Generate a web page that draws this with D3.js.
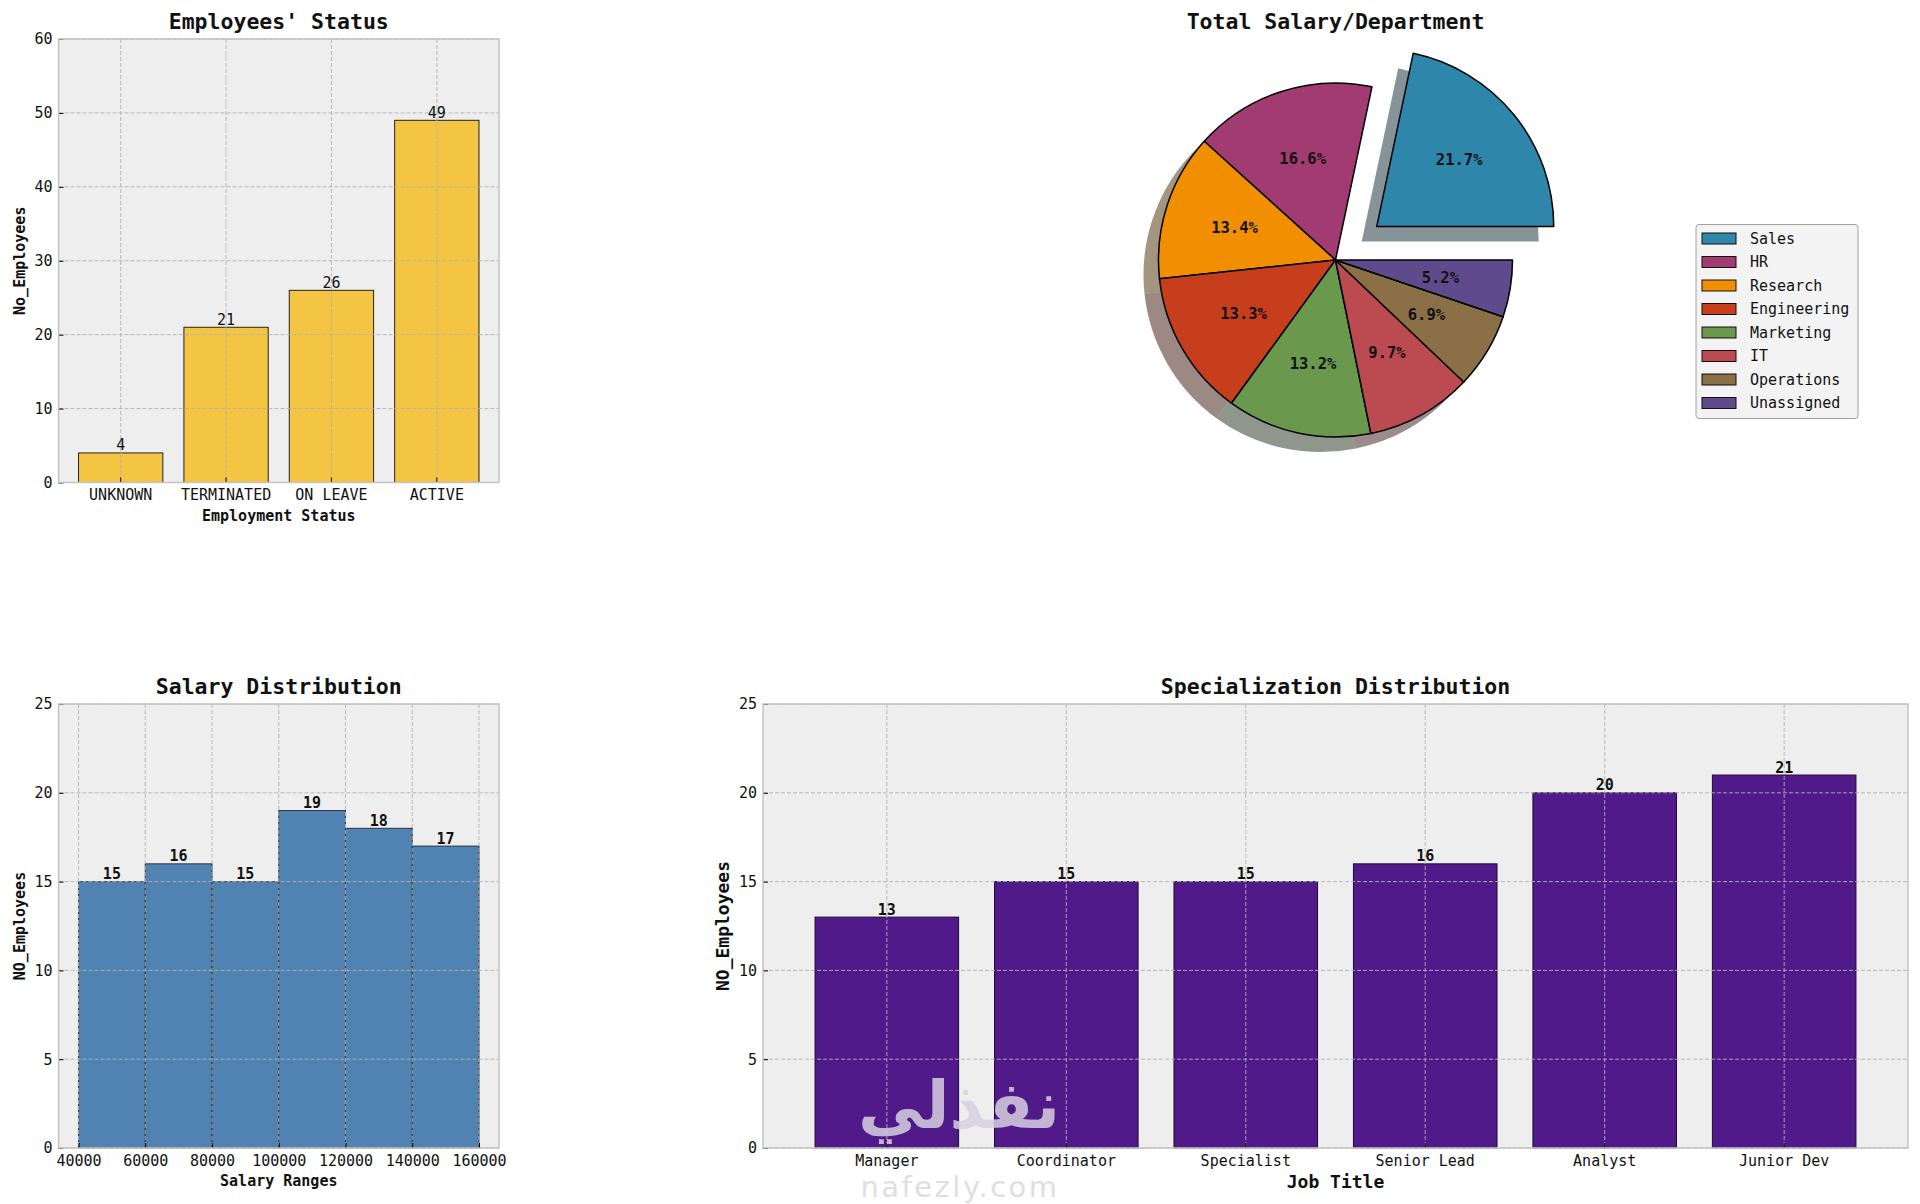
<!DOCTYPE html>
<html>
<head>
<meta charset="utf-8">
<script src="https://cdn.jsdelivr.net/npm/d3@7"></script>
<style>
  body { margin: 0; background: #ffffff; }
  text { font-family: 'DejaVu Sans Mono', monospace; }
</style>
</head>
<body>
<svg id="chart" width="1920" height="1204"></svg>
<script>
//:\\\ data //:\\\

var statusNames = ["UNKNOWN", "TERMINATED", "ON LEAVE", "ACTIVE"];
var statusCounts = [4, 21, 26, 49];
var statusTicks = [0, 10, 20, 30, 40, 50, 60];

var deptNames = ["Sales", "HR", "Research", "Engineering", "Marketing", "IT", "Operations", "Unassigned"];
var deptShares = [21.7, 16.6, 13.4, 13.3, 13.2, 9.7, 6.9, 5.2];

var salaryEdges = [40000, 60000, 80000, 100000, 120000, 140000, 160000];
var salaryCounts = [15, 16, 15, 19, 18, 17];
var salaryTicks = [40000, 60000, 80000, 100000, 120000, 140000, 160000];

var jobTitles = ["Manager", "Coordinator", "Specialist", "Senior Lead", "Analyst", "Junior Dev"];
var jobCounts = [13, 15, 15, 16, 20, 21];

var countTicks = [0, 5, 10, 15, 20, 25];

// palette for the pie
var deptColors = ["#2e86ab", "#a23b72", "#f18f01", "#c73e1d", "#6a994e", "#bc4b51", "#8b6f47", "#5f4b8b"];

//:\\\ layout //:\\\

var svg = d3.select("#chart");
var FONT = "'DejaVu Sans Mono', monospace";

var LEFT = {x0: 58.5, x1: 499};
var RIGHT = {x0: 763, x1: 1908};
var TOP = {y0: 39, y1: 482.5};
var BOTTOM = {y0: 704, y1: 1148};

function box(col, row) {
  return {x0: col.x0, x1: col.x1, y0: row.y0, y1: row.y1};
}

function bandScale(names, b) {
  // matplotlib bar layout: width 0.8 and 5% margins
  var n = names.length;
  return d3.scaleBand()
    .domain(names)
    .range([b.x0, b.x1])
    .paddingInner(0.2)
    .paddingOuter(0.05 * (n - 0.2));
}

function drawBackground(b) {
  svg.append("rect")
    .attr("x", b.x0).attr("y", b.y0)
    .attr("width", b.x1 - b.x0).attr("height", b.y1 - b.y0)
    .attr("fill", "#eeeeee");
}

function drawGrid(b, xs, ys) {
  // dashed grid, above the bars like matplotlib's default
  var g = svg.append("g")
    .attr("stroke", "#b2b2b2")
    .attr("stroke-width", 0.9)
    .attr("stroke-dasharray", "4,2");

  g.selectAll(".gx").data(xs).enter().append("line")
    .attr("x1", function(d) { return d; }).attr("x2", function(d) { return d; })
    .attr("y1", b.y0).attr("y2", b.y1);

  g.selectAll(".gy").data(ys).enter().append("line")
    .attr("x1", b.x0).attr("x2", b.x1)
    .attr("y1", function(d) { return d; }).attr("y2", function(d) { return d; });
}

function drawAxes(b, x, y, yTicks, xFormat) {
  var ax = d3.axisBottom(x).tickSizeInner(-5).tickSizeOuter(0).tickPadding(7);
  if (xFormat) ax.tickValues(xFormat.values).tickFormat(xFormat.format);

  var gx = svg.append("g")
    .attr("transform", "translate(0," + b.y1 + ")")
    .call(ax);
  gx.attr("font-family", FONT).attr("font-size", 15);
  gx.select(".domain").remove();
  gx.selectAll("line").attr("stroke", "#000").attr("stroke-width", 1);
  gx.selectAll("text").attr("fill", "#111");

  var gy = svg.append("g")
    .attr("transform", "translate(" + b.x0 + ",0)")
    .call(d3.axisLeft(y).tickValues(yTicks).tickSizeInner(-5).tickSizeOuter(0).tickPadding(6));
  gy.attr("font-family", FONT).attr("font-size", 15);
  gy.select(".domain").remove();
  gy.selectAll("line").attr("stroke", "#000").attr("stroke-width", 1);
  gy.selectAll("text").attr("fill", "#111");

  // frame
  svg.append("rect")
    .attr("x", b.x0).attr("y", b.y0)
    .attr("width", b.x1 - b.x0).attr("height", b.y1 - b.y0)
    .attr("fill", "none")
    .attr("stroke", "#c4c4c4")
    .attr("stroke-width", 1.5);
}

function drawTitles(b, title, xlab, ylab, labSize, ylabX) {
  var cx = (b.x0 + b.x1) / 2;
  var cy = (b.y0 + b.y1) / 2;

  svg.append("text")
    .attr("x", cx).attr("y", b.y0 - 10)
    .attr("text-anchor", "middle")
    .style("font-size", "21.5px").style("font-weight", "bold")
    .attr("fill", "#111")
    .text(title);

  svg.append("text")
    .attr("x", cx).attr("y", b.y1 + (labSize > 16 ? 40 : 38))
    .attr("text-anchor", "middle")
    .style("font-size", labSize + "px").style("font-weight", "bold")
    .attr("fill", "#111")
    .text(xlab);

  svg.append("text")
    .attr("transform", "translate(" + ylabX + "," + cy + ") rotate(-90)")
    .attr("text-anchor", "middle")
    .style("font-size", labSize + "px").style("font-weight", "bold")
    .attr("fill", "#111")
    .text(ylab);
}

function barLabels(data, xf, yf, bold) {
  svg.append("g").selectAll("text").data(data).enter().append("text")
    .attr("x", function(d, i) { return xf(d, i); })
    .attr("y", function(d) { return yf(d) - 2.5; })
    .attr("text-anchor", "middle")
    .style("font-size", "15px")
    .style("font-weight", bold ? "bold" : "normal")
    .attr("fill", "#111")
    .text(function(d) { return d; });
}

//:\\\ 1. Employees' Status //:\\\

(function() {
  var b = box(LEFT, TOP);
  var x = bandScale(statusNames, b);
  var y = d3.scaleLinear().domain([0, 60]).range([b.y1, b.y0]);

  drawBackground(b);

  svg.append("g").selectAll("rect").data(statusCounts).enter().append("rect")
    .attr("x", function(d, i) { return x(statusNames[i]); })
    .attr("width", x.bandwidth())
    .attr("y", function(d) { return y(d); })
    .attr("height", function(d) { return y(0) - y(d); })
    .attr("fill", "#f4c542")
    .attr("stroke", "#222")
    .attr("stroke-width", 1);

  drawGrid(b, statusNames.map(function(d) { return x(d) + x.bandwidth() / 2; }), statusTicks.map(y));
  drawAxes(b, x, y, statusTicks);
  barLabels(statusCounts, function(d, i) { return x(statusNames[i]) + x.bandwidth() / 2; }, y, false);
  drawTitles(b, "Employees' Status", "Employment Status", "No_Employees", 15, 25);
})();

//:\\\ 2. Total Salary/Department //:\\\

(function() {
  var cx = (RIGHT.x0 + RIGHT.x1) / 2;
  var cy = 260;
  var r = 177;
  var explode = 0.3;      // only Sales is pulled out
  var shadowDx = -15, shadowDy = 15;

  // matplotlib: start at 3 o'clock, counter-clockwise
  var pie = d3.pie().sort(null)
    .startAngle(Math.PI / 2)
    .endAngle(Math.PI / 2 - 2 * Math.PI);
  var arcs = pie(deptShares);
  var arc = d3.arc().innerRadius(0).outerRadius(r);
  var labelArc = d3.arc().innerRadius(0.6 * r).outerRadius(0.6 * r);

  function offset(a, i) {
    var e = i === 0 ? explode * r : 0;
    var mid = (a.startAngle + a.endAngle) / 2;
    return [Math.sin(mid) * e, -Math.cos(mid) * e];
  }

  // shadows first
  svg.append("g").selectAll("path").data(arcs).enter().append("path")
    .attr("d", arc)
    .attr("transform", function(a, i) {
      var o = offset(a, i);
      return "translate(" + (cx + o[0] + shadowDx) + "," + (cy + o[1] + shadowDy) + ")";
    })
    .attr("fill", function(a, i) {
      var c = d3.rgb(deptColors[i]);
      return d3.rgb(c.r * 0.3, c.g * 0.3, c.b * 0.3).toString();
    })
    .attr("opacity", 0.5);

  svg.append("g").selectAll("path").data(arcs).enter().append("path")
    .attr("d", arc)
    .attr("transform", function(a, i) {
      var o = offset(a, i);
      return "translate(" + (cx + o[0]) + "," + (cy + o[1]) + ")";
    })
    .attr("fill", function(a, i) { return deptColors[i]; })
    .attr("stroke", "#000")
    .attr("stroke-width", 1.5)
    .attr("stroke-linejoin", "round");

  svg.append("g").selectAll("text").data(arcs).enter().append("text")
    .attr("transform", function(a, i) {
      var o = offset(a, i);
      var c = labelArc.centroid(a);
      return "translate(" + (cx + o[0] + c[0]) + "," + (cy + o[1] + c[1]) + ")";
    })
    .attr("text-anchor", "middle")
    .attr("dy", "0.35em")
    .style("font-size", "15.5px").style("font-weight", "bold")
    .attr("fill", "#111")
    .text(function(a) { return d3.format(".1f")(a.data) + "%"; });

  svg.append("text")
    .attr("x", cx).attr("y", TOP.y0 - 10)
    .attr("text-anchor", "middle")
    .style("font-size", "21.5px").style("font-weight", "bold")
    .attr("fill", "#111")
    .text("Total Salary/Department");

  // legend
  var lx = 1696, ly = 224.5, lw = 162, lh = 194, step = 23.5;
  var lg = svg.append("g");
  lg.append("rect")
    .attr("x", lx).attr("y", ly).attr("width", lw).attr("height", lh)
    .attr("rx", 3)
    .attr("fill", "#f3f3f3")
    .attr("stroke", "#a0a0a0")
    .attr("stroke-width", 1);

  var rows = lg.selectAll(".row").data(deptNames).enter().append("g")
    .attr("transform", function(d, i) { return "translate(" + lx + "," + (ly + 14 + i * step) + ")"; });
  rows.append("rect")
    .attr("x", 6).attr("y", -5.5).attr("width", 34).attr("height", 11)
    .attr("fill", function(d, i) { return deptColors[i]; })
    .attr("stroke", "#111").attr("stroke-width", 1);
  rows.append("text")
    .attr("x", 54).attr("y", 5)
    .style("font-size", "15px")
    .attr("fill", "#111")
    .text(function(d) { return d; });
})();

//:\\\ 3. Salary Distribution //:\\\

(function() {
  var b = box(LEFT, BOTTOM);
  var span = salaryEdges[salaryEdges.length - 1] - salaryEdges[0];
  var x = d3.scaleLinear()
    .domain([salaryEdges[0] - 0.05 * span, salaryEdges[salaryEdges.length - 1] + 0.05 * span])
    .range([b.x0, b.x1]);
  var y = d3.scaleLinear().domain([0, 25]).range([b.y1, b.y0]);

  drawBackground(b);

  svg.append("g").selectAll("rect").data(salaryCounts).enter().append("rect")
    .attr("x", function(d, i) { return x(salaryEdges[i]); })
    .attr("width", function(d, i) { return x(salaryEdges[i + 1]) - x(salaryEdges[i]); })
    .attr("y", function(d) { return y(d); })
    .attr("height", function(d) { return y(0) - y(d); })
    .attr("fill", "#5083b2")
    .attr("stroke", "#2a3440")
    .attr("stroke-width", 1);

  drawGrid(b, salaryTicks.map(x), countTicks.map(y));
  drawAxes(b, x, y, countTicks, {values: salaryTicks, format: d3.format("d")});
  barLabels(salaryCounts, function(d, i) { return (x(salaryEdges[i]) + x(salaryEdges[i + 1])) / 2; }, y, true);
  drawTitles(b, "Salary Distribution", "Salary Ranges", "NO_Employees", 15, 25);
})();

//:\\\ 4. Specialization Distribution //:\\\

(function() {
  var b = box(RIGHT, BOTTOM);
  var x = bandScale(jobTitles, b);
  var y = d3.scaleLinear().domain([0, 25]).range([b.y1, b.y0]);

  drawBackground(b);

  svg.append("g").selectAll("rect").data(jobCounts).enter().append("rect")
    .attr("x", function(d, i) { return x(jobTitles[i]); })
    .attr("width", x.bandwidth())
    .attr("y", function(d) { return y(d); })
    .attr("height", function(d) { return y(0) - y(d); })
    .attr("fill", "#501a8a")
    .attr("stroke", "#1e0a33")
    .attr("stroke-width", 1);

  drawGrid(b, jobTitles.map(function(d) { return x(d) + x.bandwidth() / 2; }), countTicks.map(y));
  drawAxes(b, x, y, countTicks);
  barLabels(jobCounts, function(d, i) { return x(jobTitles[i]) + x.bandwidth() / 2; }, y, true);
  drawTitles(b, "Specialization Distribution", "Job Title", "NO_Employees", 18, 729);
})();

//:\\\ watermark of the source site //:\\\

svg.append("text")
  .attr("x", 959).attr("y", 1128)
  .attr("text-anchor", "middle")
  .style("font-family", "'DejaVu Sans', sans-serif")
  .style("font-size", "66px").style("font-weight", "bold")
  .attr("fill", "#d8d0e2").attr("opacity", 0.85)
  .text("نفذلي");

svg.append("text")
  .attr("x", 960).attr("y", 1197)
  .attr("text-anchor", "middle")
  .style("font-family", "'DejaVu Sans', sans-serif")
  .style("font-size", "29px")
  .style("letter-spacing", "2.5px")
  .attr("fill", "#dcdcdc").attr("opacity", 0.9)
  .text("nafezly.com");
</script>
</body>
</html>
